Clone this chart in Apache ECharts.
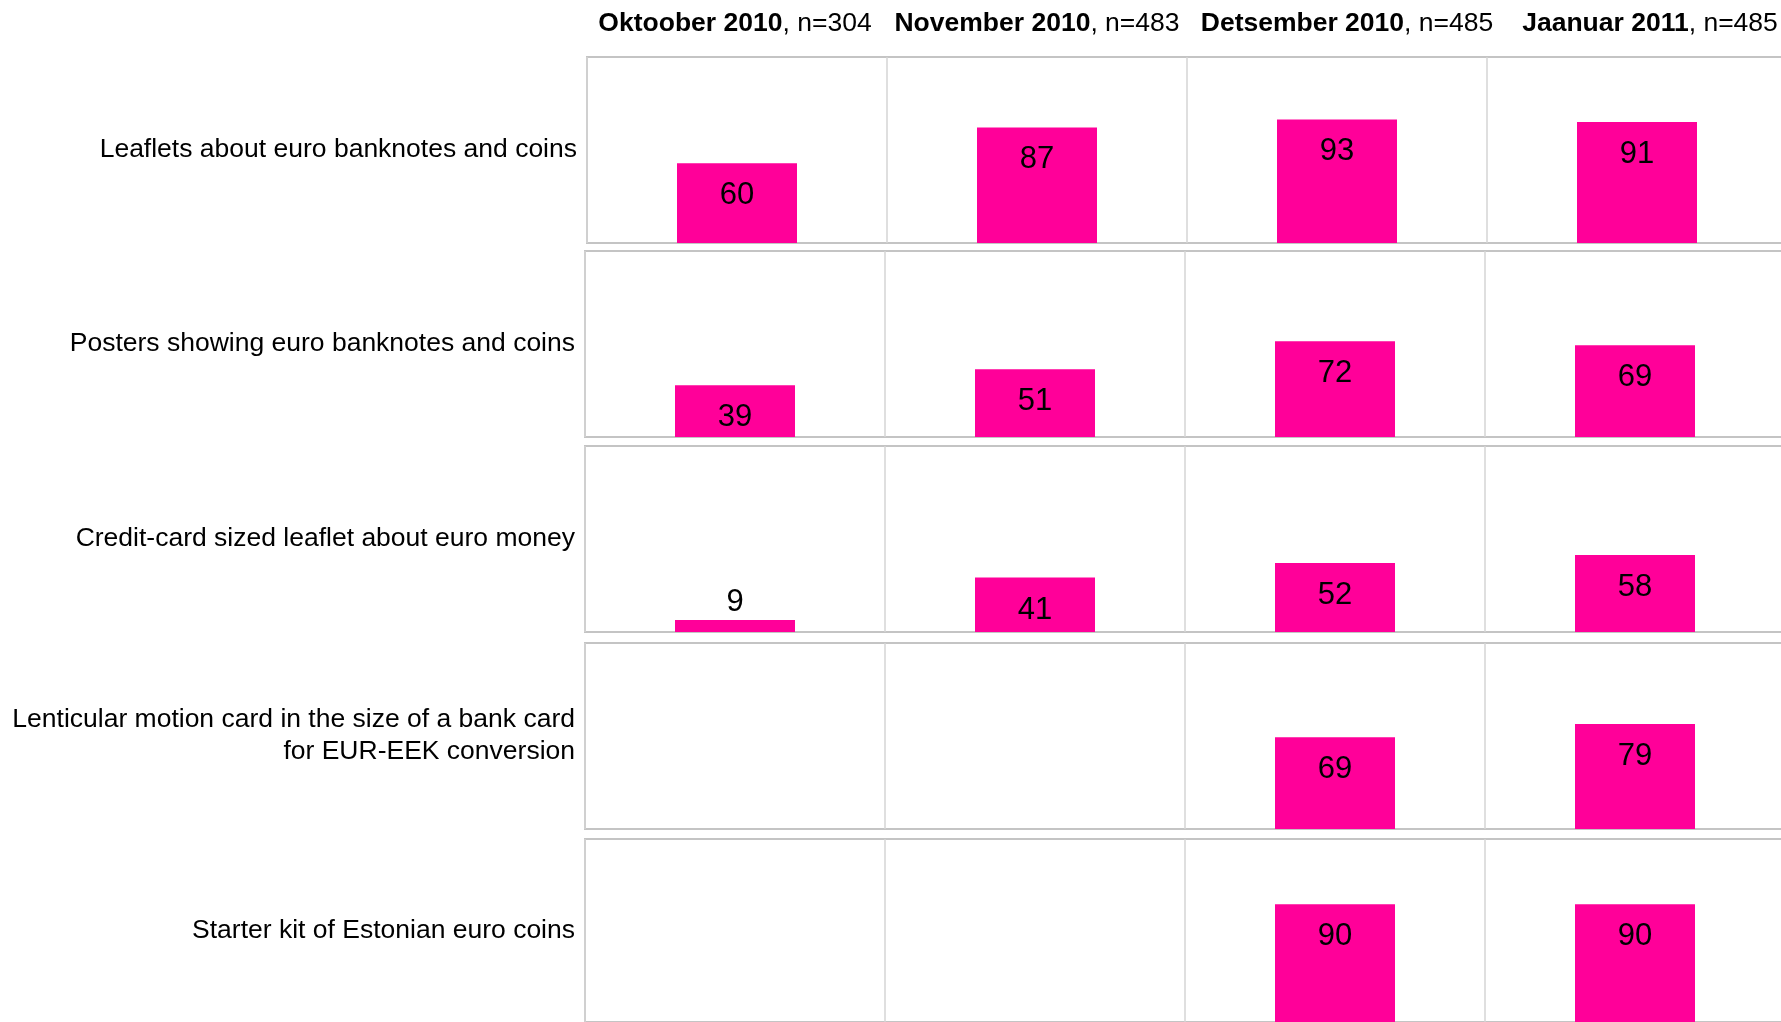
<!DOCTYPE html>
<html>
<head>
<meta charset="utf-8">
<script src="https://cdn.jsdelivr.net/npm/echarts@6/dist/echarts.min.js"></script>
<style>
  html, body { margin: 0; padding: 0; background: #fff; overflow: hidden; }
  /* wider than the window: the last column runs off the right edge */
  #main { width: 1800px; height: 1022px; }
</style>
</head>
<body>
<div id="main"></div>
<script>
var chartDom = document.getElementById('main');
var myChart = echarts.init(chartDom);
var option;

// columns (survey waves)
const months = ['Oktoober 2010', 'November 2010', 'Detsember 2010', 'Jaanuar 2011'];
const sampleSizes = [304, 483, 485, 485];

// rows (items)
const items = [
    'Leaflets about euro banknotes and coins',
    'Posters showing euro banknotes and coins',
    'Credit-card sized leaflet about euro money',
    'Lenticular motion card in the size of a bank card\nfor EUR-EEK conversion',
    'Starter kit of Estonian euro coins'
];

// % per wave, null = not asked
const leaflets = [60, 87, 93, 91];
const posters = [39, 51, 72, 69];
const creditCard = [9, 41, 52, 58];
const lenticular = [null, null, 69, 79];
const starterKit = [null, null, 90, 90];

const rowValues = [leaflets, posters, creditCard, lenticular, starterKit];

const barColor = '#ff0099';
const font = 'Liberation Sans, Arial, sans-serif';

// grid boxes, one per row
const rowTops = [57, 251, 446, 643, 839];
const rowLefts = [587, 585, 585, 585, 585];
const rowHeight = 186;
// headers in the original are not quite centred over their column
const headerPad = [[0, 4, 0, 0], [0, 0, 0, 0], [0, 0, 0, 20], [0, 0, 0, 26]];

const grids = [], xAxes = [], yAxes = [], series = [];

rowValues.forEach(function (vals, i) {
    grids.push({
        left: rowLefts[i],
        top: rowTops[i],
        width: 1200,
        height: rowHeight,
        show: true,
        borderColor: '#c4c4c4',
        borderWidth: 2
    });
    xAxes.push({
        type: 'category',
        gridIndex: i,
        data: months.map(function (m, k) {
            return i === 0 ? { value: m, textStyle: { padding: headerPad[k] } } : m;
        }),
        position: i === 0 ? 'top' : 'bottom',
        axisLine: { show: false },
        axisTick: { show: false },
        axisLabel: {
            show: i === 0,
            interval: 0,
            margin: 20,
            fontFamily: font,
            fontSize: 26.5,
            color: '#000',
            formatter: function (value, idx) {
                return '{b|' + value + '}{r|, n=' + sampleSizes[idx] + '}';
            },
            rich: {
                b: { fontFamily: font, fontSize: 26.5, fontWeight: 'bold', color: '#000' },
                r: { fontFamily: font, fontSize: 26.5, color: '#000' }
            }
        },
        splitLine: { show: true, interval: 0, lineStyle: { color: '#d4d4d4', width: 1.5 } }
    });
    yAxes.push({
        type: 'value',
        gridIndex: i,
        min: 0,
        max: 140,
        axisLine: { show: false },
        axisTick: { show: false },
        axisLabel: { show: false },
        splitLine: { show: false },
        name: items[i],
        nameLocation: 'middle',
        nameRotate: 0,
        nameGap: 10,
        nameTextStyle: {
            fontFamily: font,
            fontSize: 26.5,
            color: '#000',
            align: 'right',
            verticalAlign: 'middle',
            lineHeight: 32,
            padding: [0, 0, i === 3 ? 14 : 6, 0]
        }
    });
    series.push({
        type: 'bar',
        xAxisIndex: i,
        yAxisIndex: i,
        barWidth: '40%',
        data: vals.map(function (v) {
            // small bars get the label above
            if (v != null && v < 15) {
                return { value: v, label: { position: 'top', distance: 2 } };
            }
            return v;
        }),
        itemStyle: { color: barColor },
        label: {
            show: true,
            position: 'insideTop',
            distance: 17,
            fontFamily: font,
            fontSize: 31,
            color: '#000'
        }
    });
});

option = {
    backgroundColor: '#fff',
    animation: false,
    grid: grids,
    xAxis: xAxes,
    yAxis: yAxes,
    series: series
};

option && myChart.setOption(option);
</script>
</body>
</html>
